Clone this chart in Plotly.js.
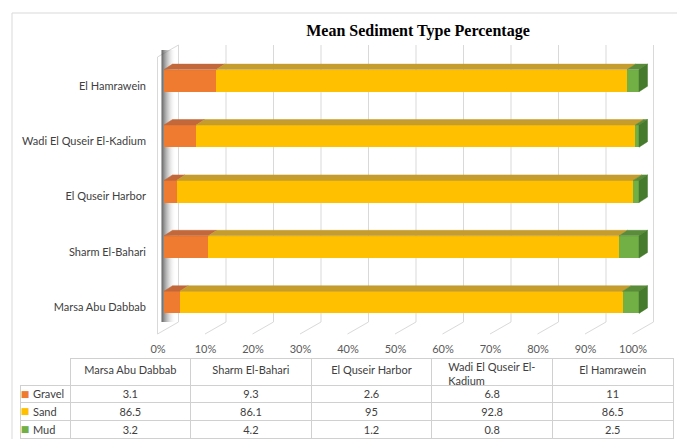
<!DOCTYPE html>
<html><head><meta charset="utf-8">
<script src="https://cdn.plot.ly/plotly-3.0.1.min.js"></script>
<style>html,body{margin:0;padding:0;background:#fff;} #chart{width:677px;height:439px;}</style>
</head><body><div id="chart"></div>
<script>
// ---- data ----
const sites = ['Marsa Abu Dabbab','Sharm El-Bahari','El Quseir Harbor','Wadi El Quseir El-Kadium','El Hamrawein'];
const siteHeaders = ['Marsa Abu Dabbab','Sharm El-Bahari','El Quseir Harbor','Wadi El Quseir El-<br>Kadium','El Hamrawein'];
const seriesNames = ['Gravel','Sand','Mud'];
const gravel = [3.1, 9.3, 2.6, 6.8, 11];
const sand = [86.5, 86.1, 95, 92.8, 86.5];
const mud = [3.2, 4.2, 1.2, 0.8, 2.5];
const xTicks = [0,10,20,30,40,50,60,70,80,90,100];

// ---- styling / geometry ----
const W = 677, H = 439;
const frontColors = ['#EE7B30','#FFC000','#72B045'];
const topColors = ['#C2683B','#C49D2E','#5A8C39'];
const sideColor = '#467A2C';
const PX = 4.75;          // px per percent
const X0F = 164;          // front 0%
const X0B = 178.5;        // back wall 0%
const YTOP = 53, YBOT = 330;
const FONT = 'Lato, "Open Sans", sans-serif';
const series = [gravel, sand, mud];
const idx = sites.map((_, i) => i);
const CLEAR = 'rgba(0,0,0,0)';

const traces = [];

// back plane decoration (subplot xy, x in percent, y in pixel rows)
const gx = [], gy = [];
xTicks.forEach(v => { gx.push(v, v, v - 21 / PX, null); gy.push(45, 322, 334, null); });
traces.push({type:'scatter', mode:'lines', x:gx, y:gy, xaxis:'x', yaxis:'y',
  line:{color:'#d9d9d9', width:1}, hoverinfo:'skip', showlegend:false});
traces.push({type:'scatter', mode:'lines', x:[0, -21/PX, -21/PX], y:[45, 57, 334], xaxis:'x', yaxis:'y',
  line:{color:'#d9d9d9', width:1}, hoverinfo:'skip', showlegend:false});
const sx0 = (161.5 - X0B) / PX, sx1 = (176 - X0B) / PX;
traces.push({type:'scatter', mode:'lines', x:[sx0, sx1, sx1, sx0, sx0], y:[50, 50, 322, 322, 50],
  xaxis:'x', yaxis:'y', fill:'toself', line:{width:0, color:CLEAR},
  fillgradient:{type:'horizontal', colorscale:[[0,'rgba(60,60,60,0.8)'],[0.45,'rgba(140,140,140,0.45)'],[1,'rgba(255,255,255,0)']]},
  hoverinfo:'skip', showlegend:false});

// bars
series.forEach((s, k) => {
  traces.push({type:'bar', orientation:'h', x:s, y:idx, name:seriesNames[k], xaxis:'x2', yaxis:'y2',
    marker:{color:frontColors[k], line:{width:0}}, showlegend:false, hoverinfo:'x+name'});
});

// 3D top faces and right side
const dx = 8.5 / PX, dy = 5.5 / 55.4, hw = 0.2;
const totals = idx.map(i => gravel[i] + sand[i] + mud[i]);
series.forEach((s, k) => {
  const xs = [], ys = [];
  idx.forEach(i => {
    let a = 0; for (let j = 0; j < k; j++) a += series[j][i];
    a = a / totals[i] * 100;
    const b = a + s[i] / totals[i] * 100;
    xs.push(a, b, b + dx, a + dx, a, null);
    ys.push(i + hw, i + hw, i + hw + dy, i + hw + dy, i + hw, null);
  });
  traces.push({type:'scatter', mode:'lines', x:xs, y:ys, xaxis:'x2', yaxis:'y2', fill:'toself',
    fillcolor:topColors[k], line:{width:0.5, color:topColors[k]}, hoverinfo:'skip', showlegend:false});
});
{
  const xs = [], ys = [];
  idx.forEach(i => {
    xs.push(100, 100, 100 + dx, 100 + dx, 100, null);
    ys.push(i - hw, i + hw, i + hw + dy, i - hw + dy, i - hw, null);
  });
  traces.push({type:'scatter', mode:'lines', x:xs, y:ys, xaxis:'x2', yaxis:'y2', fill:'toself',
    fillcolor:sideColor, line:{width:0.5, color:sideColor}, hoverinfo:'skip', showlegend:false});
}

// data table: grid with header texts
const TABLE_TOP = 358;
const BODY_SHIFT = 3;   // body text sits a little higher than plotly's default padding
const colW = [50,120.6,120.6,120.6,120.6,120.6];
const tableY = [0, 1 - TABLE_TOP/H];
const bodyY = [0, 1 - (TABLE_TOP - BODY_SHIFT)/H];
const headerVals = [''].concat(siteHeaders.map(h => h.indexOf('<br>') >= 0 ? '' : h));
traces.push({type:'table', domain:{x:[20/W, 673/W], y:tableY},
  columnwidth:colW,
  header:{values:headerVals, height:27, align:'center',
    font:{family:FONT, size:11, color:'#404040'}, fill:{color:'white'},
    line:{color:'#d0d0d0', width:[0,1,1,1,1,1]}},
  cells:{values:colW.map(() => seriesNames.map(() => '')), height:17.7, align:'center',
    font:{family:FONT, size:11, color:'#404040'}, fill:{color:'white'},
    line:{color:'#d0d0d0', width:1}}
});
// table values, overlaid
traces.push({type:'table', domain:{x:[70/W, 673/W], y:bodyY},
  columnwidth:colW.slice(1),
  header:{values:idx.map(() => ''), height:27, fill:{color:CLEAR}, line:{width:0, color:CLEAR}},
  cells:{values:idx.map(i => [gravel[i], sand[i], mud[i]]), height:17.7, align:'center',
    font:{family:FONT, size:11, color:'#404040'}, fill:{color:CLEAR}, line:{width:0, color:CLEAR}}
});
// two-line header cell, overlaid (text only)
siteHeaders.forEach((h, i) => {
  if (h.indexOf('<br>') < 0) return;
  let left = 20; for (let j = 0; j <= i; j++) left += colW[j];
  const right = left + colW[i + 1];
  traces.push({type:'table', domain:{x:[left/W, right/W], y:[0, 1 - (TABLE_TOP - 6.5)/H]},
    header:{values:[h], height:27, align:'center', font:{family:FONT, size:11, color:'#404040'},
      fill:{color:CLEAR}, line:{width:0, color:CLEAR}},
    cells:{values:[['']], height:17.7, fill:{color:CLEAR}, line:{width:0, color:CLEAR}}
  });
});
// legend keys in the row-label column, overlaid
traces.push({type:'table', domain:{x:[20/W, 30/W], y:bodyY},
  header:{values:[''], height:27, fill:{color:CLEAR}, line:{width:0, color:CLEAR}},
  cells:{values:[seriesNames.map(() => '■')], height:17.7, align:'center',
    font:{family:'"DejaVu Sans", sans-serif', size:9, color:[frontColors]},
    fill:{color:CLEAR}, line:{width:0, color:CLEAR}}
});
// row labels, overlaid
traces.push({type:'table', domain:{x:[25/W, 70/W], y:bodyY},
  header:{values:[''], height:27, fill:{color:CLEAR}, line:{width:0, color:CLEAR}},
  cells:{values:[seriesNames], height:17.7, align:'left',
    font:{family:FONT, size:11, color:'#404040'},
    fill:{color:CLEAR}, line:{width:0, color:CLEAR}}
});

const layout = {
  width:W, height:H, margin:{l:0, r:0, t:0, b:0},
  paper_bgcolor:'white', plot_bgcolor:CLEAR, showlegend:false,
  barmode:'stack', barnorm:'percent', bargap:0.6,
  title:{text:'<b>Mean Sediment Type Percentage</b>', font:{family:'"Liberation Serif", "Times New Roman", serif', size:16, color:'#000'},
    x:418/W, xanchor:'center', xref:'paper', y:1 - 30/H, yref:'container', yanchor:'middle'},
  xaxis:{domain:[0,1], range:[-X0B/PX, (W - X0B)/PX], visible:false, fixedrange:true},
  yaxis:{domain:[0,1], range:[H, 0], visible:false, fixedrange:true},
  xaxis2:{anchor:'y2', domain:[X0F/W, (X0F + 102*PX)/W], range:[0,102], showgrid:false, zeroline:false,
    tickvals:xTicks, ticktext:xTicks.map(v => v + '%'), ticks:'', ticklabelshift:-6, ticklabelstandoff:11,
    tickfont:{family:FONT, size:11, color:'#595959'}, showline:false, fixedrange:true},
  yaxis2:{anchor:'x2', domain:[1 - YBOT/H, 1 - YTOP/H], range:[-0.5,4.5], showgrid:false, zeroline:false,
    tickvals:idx, ticktext:sites, ticks:'', ticklabelstandoff:17, ticklabelshift:5,
    tickfont:{family:FONT, size:11, color:'#404040'}, showline:false, fixedrange:true},
  shapes:[{type:'rect', xref:'paper', yref:'paper', x0:12/W, x1:1.05, y0:-0.05, y1:1 - 13/H,
    line:{color:'#d9d9d9', width:1}, fillcolor:CLEAR, layer:'below'}]
};

Plotly.newPlot('chart', traces, layout, {displayModeBar:false, staticPlot:true});
</script>
</body></html>
